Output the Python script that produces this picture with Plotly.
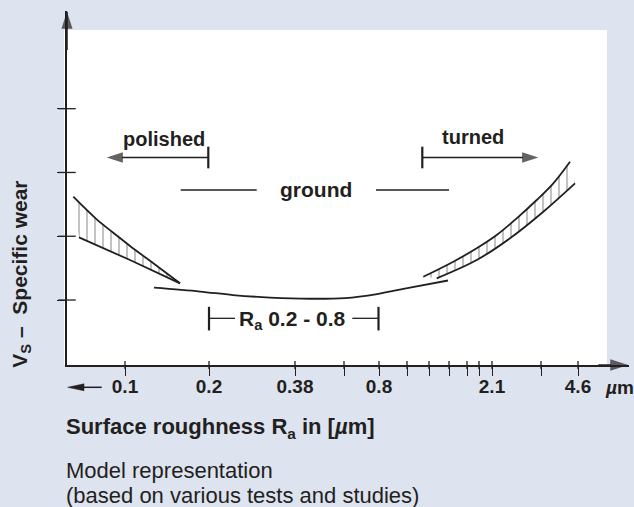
import plotly.graph_objects as go

# ---------------- data ----------------
tick_labels = ["0.1", "0.2", "0.38", "0.8", "2.1", "4.6"]
tick_pos = [5.8, 14.2, 22.8, 31.2, 42.5, 51.1]
minor_tick_pos = [27.7, 34.0, 36.2, 38.2, 40.0, 41.2, 47.4]
wear_ticks = [1, 2, 3, 4]

ground_x = [8.7, 13.3, 16.6, 20.3, 24.3, 27.8, 31.0, 34.3, 38.1]
ground_y = [1.193, 1.133, 1.078, 1.039, 1.020, 1.031, 1.094, 1.196, 1.306]

polished_upper_x = [0.63, 2.97, 4.63, 6.3, 8.73, 11.3]
polished_upper_y = [2.62, 2.265, 2.055, 1.847, 1.565, 1.262]
polished_lower_x = [1.2, 6.3, 11.3]
polished_lower_y = [1.983, 1.627, 1.262]

turned_upper_x = [35.63, 38.63, 40.97, 42.97, 44.97, 46.97, 48.63, 50.3]
turned_upper_y = [1.365, 1.601, 1.811, 2.019, 2.281, 2.568, 2.830, 3.169]
turned_lower_x = [36.97, 40.97, 44.3, 47.63, 50.8]
turned_lower_y = [1.340, 1.627, 1.968, 2.385, 2.830]

polished_span = [14.13, 3.97]      # from bar to arrow tip
turned_span = [35.53, 47.13]
span_level = 3.235
ground_dash_left = [11.37, 18.97]
ground_dash_right = [30.9, 38.2]
ground_level = 2.725
ra_span = [14.2, 31.15]
ra_inner = [16.8, 28.53]
ra_level = 0.713

# ---------------- layout geometry / style ----------------
W, H = 634, 507
ML, MR, MT, MB = 67, 5, 11, 142
PW, PH = W - ML - MR, H - MT - MB
X_RANGE = [0, 56.2]
Y_RANGE = [-0.019, 5.532]
INK = "#231f20"
BG = "#dde3ef"
FONT = "Liberation Sans, Arial, sans-serif"
LW = 1.8


def px(x):
    return (x - ML) / PW


def py(y):
    return (H - MB - y) / PH


fig = go.Figure()


def line(x, y, width=LW, shape="linear", **kw):
    fig.add_trace(go.Scatter(x=x, y=y, mode="lines", hoverinfo="skip",
                             line=dict(color=INK, width=width, shape=shape),
                             showlegend=False, **kw))


def arrow(x, y, size, width=1.3):
    fig.add_trace(go.Scatter(
        x=x, y=y, mode="lines+markers", hoverinfo="skip", showlegend=False,
        cliponaxis=False, line=dict(color=INK, width=width),
        marker=dict(symbol=["circle", "arrow"], size=[0, size], angleref="previous",
                    color=INK, line=dict(width=0))))


hatch = dict(shape="|", size=8, solidity=0.15, fgcolor="#333333",
             bgcolor="rgba(0,0,0,0)")

# polished band
line(polished_lower_x, polished_lower_y)
line(polished_upper_x, polished_upper_y, shape="spline", fill="tonexty",
     fillpattern=hatch, fillcolor="rgba(0,0,0,0)")
# turned band
line(turned_lower_x, turned_lower_y, shape="spline")
line(turned_upper_x, turned_upper_y, shape="spline", fill="tonexty",
     fillpattern=hatch, fillcolor="rgba(0,0,0,0)")
# ground curve
line(ground_x, ground_y, shape="spline")

# range arrows (polished / turned)
for span in (polished_span, turned_span):
    arrow(span, [span_level, span_level], 17)
    line([span[0], span[0]], [span_level - 0.17, span_level + 0.17], width=2.2)

# ground dashes
line(ground_dash_left, [ground_level] * 2, width=1.3)
line(ground_dash_right, [ground_level] * 2, width=1.3)

# R_a bracket
line([ra_span[0], ra_inner[0]], [ra_level] * 2, width=1.3)
line([ra_inner[1], ra_span[1]], [ra_level] * 2, width=1.3)
for xb in ra_span:
    line([xb, xb], [ra_level - 0.19, ra_level + 0.18], width=2.2)

# upper halves of the x ticks and full y ticks (crossing the axes)
all_x_ticks = tick_pos + minor_tick_pos
fig.add_trace(go.Scatter(
    x=all_x_ticks, y=[Y_RANGE[0]] * len(all_x_ticks),
    mode="markers", hoverinfo="skip", showlegend=False, cliponaxis=False,
    marker=dict(symbol="line-ns", size=5.7, line=dict(color=INK, width=1.3))))
fig.add_trace(go.Scatter(
    x=[0] * len(wear_ticks), y=wear_ticks,
    mode="markers", hoverinfo="skip", showlegend=False, cliponaxis=False,
    marker=dict(symbol="line-ew", size=12.5, line=dict(color=INK, width=1.3))))

# axis arrowheads
x_tip = (628.3 - ML) / 10
y_tip = (363.77 - 11.7) / 63.77
arrow([x_tip - 3, x_tip], [Y_RANGE[0], Y_RANGE[0]], 19, width=1.5)
arrow([0, 0], [y_tip - 0.6, y_tip], 18, width=1.5)

shapes = [
    dict(type="rect", xref="paper", yref="paper", x0=px(64), x1=px(607),
         y0=py(365), y1=py(30), fillcolor="white", line=dict(width=0), layer="below"),
    # "<-" left of the 0.1 label
    dict(type="line", xref="paper", yref="paper", x0=px(80), x1=px(101.7),
         y0=py(387.3), y1=py(387.3), line=dict(color=INK, width=1.5)),
    dict(type="path", xref="paper", yref="paper",
         path="M{:.5f},{:.5f} L{:.5f},{:.5f} L{:.5f},{:.5f} Z".format(
             px(67.7), py(387.3), px(84), py(383.8), px(84), py(390.8)),
         fillcolor=INK, line=dict(color=INK, width=0.5)),
]

bold20 = dict(family=FONT, size=20, color=INK, weight="bold")
bold21 = dict(family=FONT, size=21, color=INK, weight="bold")
tickfont = dict(family=FONT, size=19, color=INK, weight="bold")
annotations = [
    dict(x=9.7, y=3.52, xref="x", yref="y", text="polished", showarrow=False, font=bold20),
    dict(x=40.6, y=3.55, xref="x", yref="y", text="turned", showarrow=False, font=bold20),
    dict(x=24.9, y=2.74, xref="x", yref="y", text="ground", showarrow=False, font=bold21),
    dict(x=22.55, y=0.68, xref="x", yref="y", text="R<sub>a</sub> 0.2 - 0.8",
         showarrow=False, font=bold21),
    dict(x=px(603), y=py(387), xref="paper", yref="paper", xanchor="left",
         yanchor="middle", text="<i>µ</i>m", showarrow=False, font=tickfont),
    dict(x=px(20.7), y=py(274), xref="paper", yref="paper", textangle=-90,
         xanchor="center", yanchor="middle",
         text="V<sub>S</sub> –  Specific wear", showarrow=False, font=bold21),
    dict(x=px(64), y=py(428), xref="paper", yref="paper", xanchor="left",
         yanchor="middle",
         text="Surface roughness R<sub>a</sub> in [<i>µ</i>m]", showarrow=False,
         font=dict(family=FONT, size=22, color=INK, weight="bold")),
    dict(x=px(64), y=py(470), xref="paper", yref="paper", xanchor="left",
         yanchor="middle", text="Model representation", showarrow=False,
         font=dict(family=FONT, size=22, color=INK)),
    dict(x=px(64), y=py(495), xref="paper", yref="paper", xanchor="left",
         yanchor="middle", text="(based on various tests and studies)", showarrow=False,
         font=dict(family=FONT, size=22, color=INK)),
]

fig.update_layout(
    width=W, height=H, margin=dict(l=ML, r=MR, t=MT, b=MB),
    paper_bgcolor=BG, plot_bgcolor="rgba(0,0,0,0)",
    shapes=shapes, annotations=annotations, showlegend=False,
    xaxis=dict(range=X_RANGE, showgrid=False, zeroline=False, showline=True,
               linecolor=INK, linewidth=1.5,
               ticks="outside", ticklen=9,
               tickwidth=1.3, tickcolor=INK,
               tickvals=tick_pos, ticktext=tick_labels,
               ticklabelstandoff=-6,
               minor=dict(tickvals=minor_tick_pos, ticks="outside", ticklen=9,
                          tickwidth=1.3, tickcolor=INK, showgrid=False),
               tickfont=tickfont, fixedrange=True),
    yaxis=dict(range=Y_RANGE, showgrid=False, zeroline=False, showline=True,
               linecolor=INK, linewidth=1.5,
               ticks="outside", ticklen=8,
               tickwidth=1.3, tickcolor=INK, tickvals=wear_ticks,
               showticklabels=False, fixedrange=True),
)

fig.write_html("out.html", config={"displayModeBar": False},
               post_script="document.body.style.margin='0';")
